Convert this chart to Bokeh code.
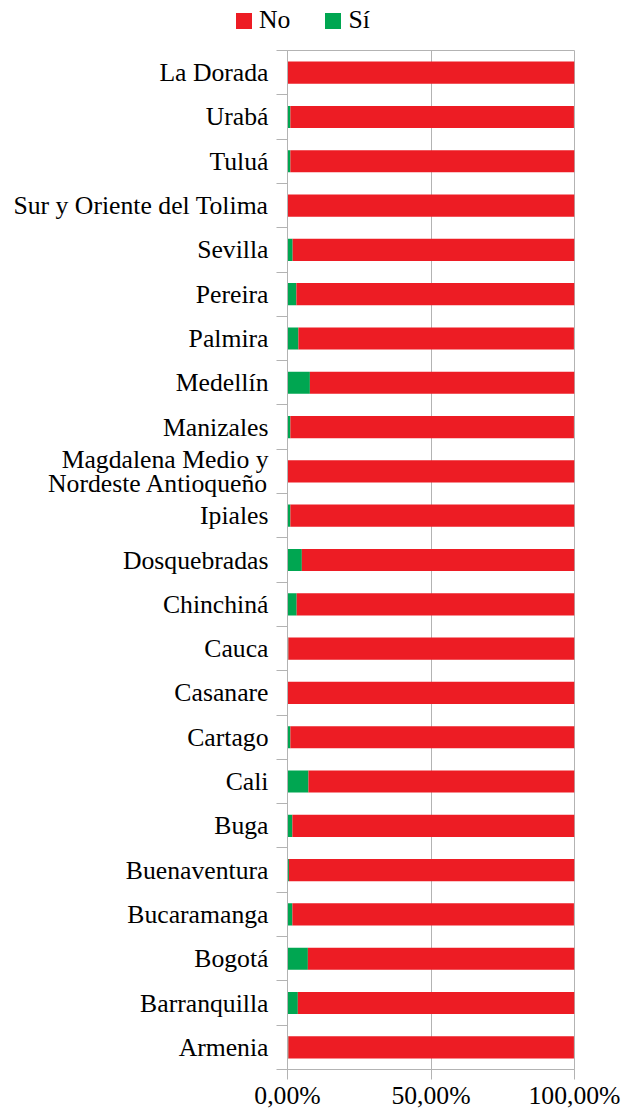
from bokeh.plotting import figure
from bokeh.layouts import column
from bokeh.models import (FactorRange, Range1d, LinearAxis, FixedTicker,
                          ColumnDataSource, Div)
from bokeh.embed import file_html
from bokeh.resources import INLINE

# ---- data (top to bottom as shown) ----
categories = ["La Dorada", "Urabá", "Tuluá", "Sur y Oriente del Tolima", "Sevilla",
              "Pereira", "Palmira", "Medellín", "Manizales",
              "Magdalena Medio y\nNordeste Antioqueño", "Ipiales", "Dosquebradas",
              "Chinchiná", "Cauca", "Casanare", "Cartago", "Cali", "Buga",
              "Buenaventura", "Bucaramanga", "Bogotá", "Barranquilla", "Armenia"]
si = [0.0, 1.0, 1.0, 0.0, 1.8, 3.1, 3.8, 7.8, 1.0, 0.0, 1.0, 5.0,
      3.2, 0.3, 0.0, 1.0, 7.3, 1.7, 0.5, 1.7, 7.1, 3.6, 0.3]
no = [100.0, 98.8, 99.0, 100.0, 98.2, 96.9, 96.0, 92.2, 98.8, 100.0, 99.0, 95.0,
      96.8, 99.7, 100.0, 99.0, 92.7, 98.3, 99.5, 98.1, 92.9, 96.4, 99.5]
series_names = ["No", "Sí"]
x_ticks = [0, 50, 100]
x_tick_labels = ["0,00%", "50,00%", "100,00%"]

RED = "#ed1c24"
GREEN = "#00a651"
GRID = "#b3b3b3"
FONT = "Liberation Serif"
FS = "25.7px"
FRAME_H = 1019
LEG_H = 50

factors = list(reversed(categories))
src = ColumnDataSource(dict(cat=categories, si=si, no=no,
                            si_end=si, no_end=[a + b for a, b in zip(si, no)]))

p = figure(y_range=FactorRange(factors=factors, range_padding=0, factor_padding=0),
           x_range=Range1d(0, 100),
           frame_width=287, frame_height=FRAME_H,
           min_border_left=287, min_border_right=56,
           min_border_top=0, min_border_bottom=0,
           output_backend="svg", toolbar_location=None)

r_si = p.hbar(y="cat", left=0, right="si_end", height=0.5, source=src,
              fill_color=GREEN, line_color=None)
r_no = p.hbar(y="cat", left="si_end", right="no_end", height=0.5, source=src,
              fill_color=RED, line_color=None)

# frame / grid
p.outline_line_color = GRID
p.outline_line_width = 1
p.ygrid.grid_line_color = None
p.xgrid.grid_line_color = GRID
p.xgrid.ticker = FixedTicker(ticks=x_ticks)

# x axis
xa = p.xaxis[0]
xa.ticker = FixedTicker(ticks=x_ticks)
xa.major_label_overrides = {t: l for t, l in zip(x_ticks, x_tick_labels)}
xa.axis_line_color = GRID
xa.major_tick_line_color = GRID
xa.major_tick_out = 10
xa.major_tick_in = 0
xa.minor_tick_line_color = None
xa.major_label_standoff = 1
xa.major_label_text_font = FONT
xa.major_label_text_font_size = FS
xa.major_label_text_color = "#000000"

# category label axis
ya = p.yaxis[0]
ya.axis_line_color = None
ya.major_tick_line_color = None
ya.minor_tick_line_color = None
ya.major_label_standoff = 2
ya.major_label_text_font = FONT
ya.major_label_text_font_size = FS
ya.major_label_text_color = "#000000"
ya.major_label_text_line_height = 0.85

# boundary tick axis on left (ticks between categories, synthetic coords)
ba = LinearAxis(ticker=FixedTicker(ticks=list(range(len(categories) + 1))))
ba.axis_line_color = GRID
ba.major_tick_line_color = GRID
ba.major_tick_out = 11
ba.major_tick_in = 0
ba.minor_tick_line_color = None
ba.major_label_text_font_size = "0px"
ba.major_label_text_color = None
ba.major_label_standoff = 0
p.left.insert(0, ba)

# ---- legend strip above the chart ----
legend_colors = [RED, GREEN]
items_html = ""
for i, (name, col) in enumerate(zip(series_names, legend_colors)):
    gap = "35px" if i < len(series_names) - 1 else "0px"
    items_html += (
        f'<span style="display:inline-block;width:16px;height:16px;'
        f'background:{col};margin-right:7px;"></span>'
        f'<span style="margin-right:{gap};">{name}</span>'
    )
legend_div = Div(
    text=(f'<div style="position:relative;width:634px;height:{LEG_H}px;">'
          f'<div style="position:absolute;left:236px;top:0px;height:41px;'
          f'display:flex;align-items:center;font-family:\'{FONT}\';'
          f'font-size:{FS};color:#000000;white-space:nowrap;">'
          f'{items_html}</div></div>'),
    width=634, height=LEG_H, margin=0)

layout = column(legend_div, p, spacing=0)
open("out.html", "w").write(file_html(layout, INLINE))
